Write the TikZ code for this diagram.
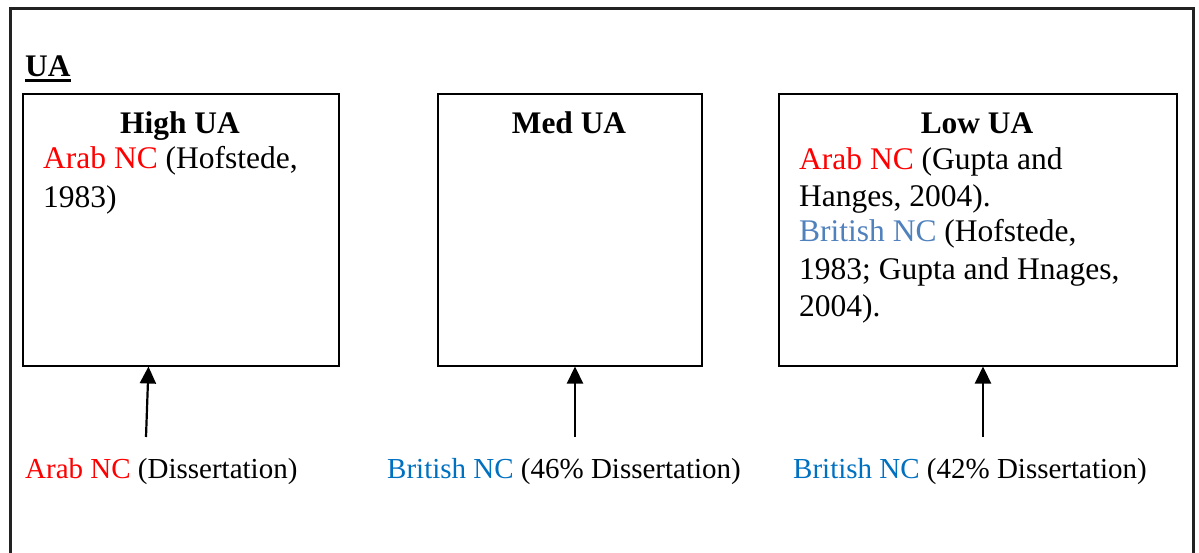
\documentclass[tikz,border=0pt]{standalone}
\usepackage{fontspec}
\setmainfont{Liberation Serif}
\usetikzlibrary{arrows.meta}
\definecolor{arabred}{RGB}{255,0,0}
\definecolor{britblue}{RGB}{79,129,189}
\definecolor{diskblue}{RGB}{0,112,192}
\definecolor{framegray}{RGB}{34,34,34}
\newcommand{\bodysize}{\fontsize{29}{36}\selectfont}
\newcommand{\boxsize}{\fontsize{31.5}{38}\selectfont}
\newcommand{\headsize}{\fontsize{31.4}{38}\selectfont\bfseries}
\newcommand{\arab}{\textcolor{arabred}{Arab NC}}

\begin{document}
\begin{tikzpicture}[x=1pt,y=-1pt,
  uabox/.style={draw, line width=1.5pt, rectangle, inner sep=0pt, anchor=north west, minimum height=272pt},
  txt/.style={anchor=base west, inner sep=0pt, font=\bodysize},
  boxtxt/.style={anchor=base west, inner sep=0pt, font=\boxsize},
  head/.style={anchor=base, inner sep=0pt, font=\headsize},
  arr/.style={line width=2.2pt, -{Triangle[length=17pt,width=16pt]}}]
\useasboundingbox (0,0) rectangle (1199,552);

% open outer frame
\draw[line width=2.6pt, framegray] (10.3,556) -- (10.3,8.7) -- (1193.5,8.7) -- (1193.5,556);

% heading
\node[anchor=base west, inner sep=0pt, font=\headsize] (ua) at (25,76) {UA};
\draw[line width=2.6pt] ([yshift=-4.5pt]ua.base west) -- ([yshift=-4.5pt]ua.base east);

% the three level boxes
\node[uabox, minimum width=316pt] (hi)  at (22,93)  {};
\node[uabox, minimum width=264pt] (med) at (437,93) {};
\node[uabox, minimum width=398pt] (lo)  at (778,93) {};

\node[head] (hiT)  at (180,133) {High UA};
\node[head] (medT) at (569,133) {Med UA};
\node[head] (loT)  at (977,133) {Low UA};

% contents of the high box
\node[boxtxt] (hi1) at (43,168) {\arab{} (Hofstede,};
\node[boxtxt] (hi2) at (43,207) {1983)};

% contents of the low box
\node[boxtxt] (lo1) at (799,169.3) {\arab{} (Gupta and};
\node[boxtxt] (lo2) at (799,206.7) {Hanges, 2004).};
\node[boxtxt] (lo3) at (799,241.7) {\textcolor{britblue}{British NC} (Hofstede,};
\node[boxtxt] (lo4) at (799,279.3) {1983; Gupta and Hnages,};
\node[boxtxt] (lo5) at (799,316.7) {2004).};

% findings below
\node[txt] (d1) at (25,478)  {\arab{} (Dissertation)};
\node[txt] (d2) at (387,478) {\textcolor{diskblue}{British NC} (46\% Dissertation)};
\node[txt] (d3) at (793,478) {\textcolor{diskblue}{British NC} (42\% Dissertation)};

% arrows from the findings up to the boxes
\coordinate (s1) at (146,437);
\coordinate (t1) at (148.5,0);
\coordinate (s2) at (575,437);
\coordinate (s3) at (983,437);
\draw[arr] (s1) -- (t1 |- hi.south);
\draw[arr] (s2) -- (s2 |- med.south);
\draw[arr] (s3) -- (s3 |- lo.south);
\end{tikzpicture}
\end{document}
